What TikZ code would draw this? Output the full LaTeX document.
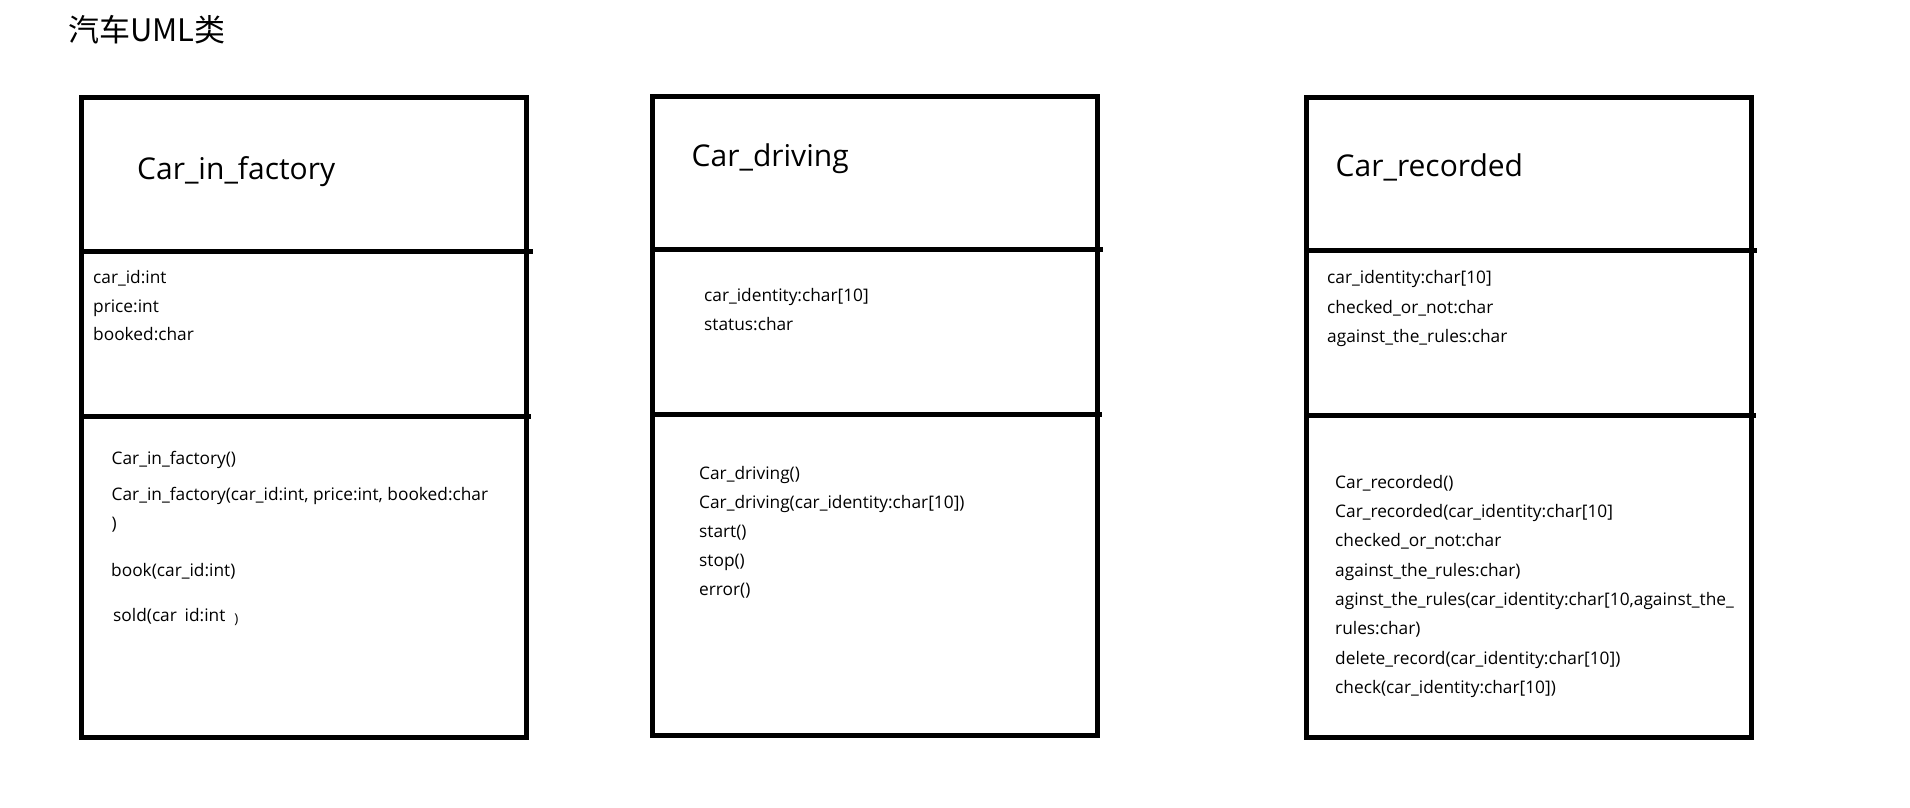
\documentclass[tikz,border=0pt]{standalone}
\usepackage{fontspec}
\setmainfont{Open Sans}
\newfontfamily\cjkfont{Noto Sans CJK SC}
\usepackage{tikz}
\usetikzlibrary{positioning}
\tikzstyle{classbox} = [rectangle, draw=black, line width=5pt, minimum
width=445pt, inner sep=0pt, outer sep=0pt]
\tikzstyle{divider} = [draw=black, line width=5pt]
\tikzstyle{heading} = [font=\cjkfont\fontsize{31}{36}\selectfont, inner
sep=0pt, anchor=base west]
\tikzstyle{classname} = [font=\fontsize{30}{36}\selectfont, inner sep=0pt,
anchor=base west]
\tikzstyle{member} = [font=\fontsize{17.3}{21}\selectfont, inner sep=0pt,
anchor=base west, yshift=1.5pt]

\begin{document}
\begin{tikzpicture}[x=1pt, y=-1pt]
\useasboundingbox (0,0) rectangle (1910,807);

\node(title)[heading] at (68,41.7){汽车UML类};

\node(factory)[classbox, minimum height=640pt] at (304,417.5){};
\node(driving)[classbox, minimum height=639pt] at (875,416){};
\node(recorded)[classbox, minimum height=639.5pt] at (1529,417.25){};

\draw[divider]([yshift=-154.2pt]factory.north west) --
([yshift=-154.2pt, xshift=6pt]factory.north east);
\draw[divider]([yshift=-319pt, xshift=-2pt]factory.north west) --
([yshift=-319pt, xshift=4pt]factory.north east);
\draw[divider]([yshift=-152.7pt]driving.north west) --
([yshift=-152.7pt, xshift=5pt]driving.north east);
\draw[divider]([yshift=-317.7pt, xshift=-1pt]driving.north west) --
([yshift=-317.7pt, xshift=4pt]driving.north east);
\draw[divider]([yshift=-152.5pt]recorded.north west) --
([yshift=-152.5pt, xshift=5pt]recorded.north east);
\draw[divider]([yshift=-318pt, xshift=-1pt]recorded.north west) --
([yshift=-318pt, xshift=4pt]recorded.north east);

\node(fname)[classname] at (137,179){Car\_in\_factory};
\node(fa1)[member] at (93,285){car\_id:int};
\node(fa2)[member] at (93,313.5){price:int};
\node(fa3)[member] at (93,342){booked:char};
\node(fm1)[member] at (111.5,466){Car\_in\_factory()};
\node(fm2)[member] at (111.5,502){Car\_in\_factory(car\_id:int, price:int,
booked:char};
\node(fm3)[member] at (111.5,531){)};
\node(fm4)[member] at (111,578){book(car\_id:int)};
\node(fm5)[member] at (113,623){sold(car\phantom{\_}id:int\hspace{9pt}{\fontsize{13.5}{15}\selectfont\raisebox{-1.5pt}{)}}};

\node(dname)[classname] at (691.5,166.8){Car\_driving};
\node(da1)[member] at (704,303){car\_identity:char[10]};
\node(da2)[member] at (704,331.6){status:char};
\node(dm1)[member] at (699,481){Car\_driving()};
\node(dm2)[member] at (699,510){Car\_driving(car\_identity:char[10])};
\node(dm3)[member] at (699,539){start()};
\node(dm4)[member] at (699,568){stop()};
\node(dm5)[member] at (699,597){error()};

\node(rname)[classname] at (1335.5,176){Car\_recorded};
\node(ra1)[member] at (1327,285){car\_identity:char[10]};
\node(ra2)[member] at (1327,314.5){checked\_or\_not:char};
\node(ra3)[member] at (1327,343.5){against\_the\_rules:char};
\node(rm1)[member] at (1335,489.6){Car\_recorded()};
\node(rm2)[member] at (1335,519){Car\_recorded(car\_identity:char[10]};
\node(rm3)[member] at (1335,548){checked\_or\_not:char};
\node(rm4)[member] at (1335,577.7){against\_the\_rules:char)};
\node(rm5)[member] at (1335,607){aginst\_the\_rules(car\_identity:char[10,against\_the\_};
\node(rm6)[member] at (1335,636){rules:char)};
\node(rm7)[member] at (1335,666){delete\_record(car\_identity:char[10])};
\node(rm8)[member] at (1335,695){check(car\_identity:char[10])};

\end{tikzpicture}
\end{document}
